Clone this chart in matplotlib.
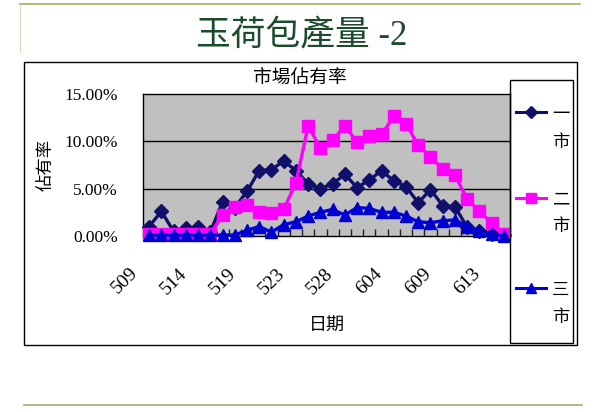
import matplotlib
matplotlib.use("Agg")
import matplotlib.pyplot as plt
from matplotlib.lines import Line2D
from matplotlib.patches import Rectangle
from matplotlib.transforms import ScaledTranslation
import numpy as np

# ---------------- data ----------------
series_names = ["一市", "二市", "三市"]
market1 = [1.0, 2.6, 0.5, 0.8, 0.9, 0.4, 3.6, 3.0, 4.7, 6.9, 7.0, 7.9, 6.9, 5.5, 5.0,
           5.5, 6.5, 5.1, 5.9, 6.9, 5.8, 5.2, 3.5, 4.9, 3.2, 3.1, 0.9, 0.5, 0.2, 0.1]
market2 = [0.2, 0.2, 0.2, 0.2, 0.2, 0.2, 2.2, 3.1, 3.3, 2.5, 2.4, 2.8, 5.6, 11.6, 9.3,
           10.1, 11.6, 9.9, 10.5, 10.7, 12.6, 11.8, 9.6, 8.3, 7.1, 6.4, 3.9, 2.6, 1.4, 0.2]
market3 = [0.1, 0.1, 0.1, 0.1, 0.1, 0.1, 0.1, 0.1, 0.6, 1.0, 0.4, 1.2, 1.5, 2.1, 2.5,
           2.8, 2.2, 3.0, 2.9, 2.5, 2.5, 2.1, 1.5, 1.4, 1.6, 1.7, 1.0, 0.5, 0.2, 0.0]
tick_labels = ["509", "514", "519", "523", "528", "604", "609", "613"]
tick_step = 4
y_ticks = [0, 5, 10, 15]

W, H = 600, 412
def fx(px): return px / W
def fy(py): return 1 - py / H

CJK = ["Noto Sans CJK TC", "DejaVu Sans"]
SERIF = ["Liberation Serif", "Noto Sans CJK TC"]

fig = plt.figure(figsize=(6, 4.12), dpi=100)
fig.patch.set_facecolor("white")

olive = "#a8a86a"
fig.add_artist(Line2D([fx(20), fx(580)], [fy(4), fy(4)], transform=fig.transFigure, color=olive, lw=1.2))
fig.add_artist(Line2D([fx(20), fx(20)], [fy(4), fy(52)], transform=fig.transFigure, color="#d8d8b8", lw=0.8))
fig.add_artist(Line2D([fx(24), fx(582)], [fy(405), fy(405)], transform=fig.transFigure, color=olive, lw=1.2))

# main title
fig.text(fx(302), fy(36), "玉荷包產量 -2", family=SERIF, fontsize=25, color="#1c4a2c",
         ha="center", va="center")

# chart box
fig.add_artist(Rectangle((fx(24), fy(345)), fx(577) - fx(24), fy(62) - fy(345),
                         transform=fig.transFigure, fill=False, ec="black", lw=1))

fig.text(fx(300), fy(78), "市場佔有率", family=CJK, fontsize=13.5, ha="center", va="center",
         fontweight="light")

ax = fig.add_axes([fx(143), fy(236), fx(510) - fx(143), fy(93.7) - fy(236)])
ax.set_facecolor("#c0c0c0")
n = len(market1)
x = np.arange(n)
ax.set_xlim(-0.5, n - 0.5)
ax.set_ylim(0, 15)

for yv in y_ticks[1:-1]:
    ax.axhline(yv, color="black", lw=1, zorder=1)

ax.plot(x, market1, color="#10106a", lw=2.4, marker="D", ms=7.5, mfc="#10106a", mec="#10106a", zorder=3, clip_on=False)
ax.plot(x, market2, color="#ff00ff", lw=2.4, marker="s", ms=8, mfc="#ff00ff", mec="#ff00ff", zorder=3, clip_on=False)
ax.plot(x, market3, color="#0000e0", lw=2.4, marker="^", ms=8.5, mfc="#0000d0", mec="#0000d0", zorder=4, clip_on=False)

ax.set_yticks(y_ticks)
ax.set_yticklabels([f"{v:.2f}%" for v in y_ticks], family=SERIF, fontsize=12.5)
ax.tick_params(axis="y", length=0, pad=18)

ax.set_xticks(np.arange(0, n, tick_step))
ax.set_xticklabels(tick_labels, family=SERIF, fontsize=14, rotation=45,
                   rotation_mode="anchor", ha="right", va="center")
ax.set_xticks(np.arange(0.5, n - 0.5, 1), minor=True)
ax.tick_params(axis="x", which="major", length=0, pad=25)
ax.tick_params(axis="x", which="minor", direction="in", length=5, color="#202020", width=1)
off = ScaledTranslation(-14 / 100, 0, fig.dpi_scale_trans)
for lab in ax.get_xticklabels():
    lab.set_transform(lab.get_transform() + off)

for s in ax.spines.values():
    s.set_color("black")
    s.set_linewidth(1)

ax.set_xlabel("日期", family=CJK, fontsize=13, labelpad=14, fontweight="light")
ax.set_ylabel("佔有率", family=CJK, fontsize=12.5, labelpad=7, fontweight="light")

# legend box (manual)
fig.add_artist(Rectangle((fx(510), fy(343)), fx(573) - fx(510), fy(80) - fy(343),
                         transform=fig.transFigure, fill=False, ec="black", lw=1))
leg_specs = [("#10106a", "D", 6, 112, 142), ("#ff00ff", "s", 7, 198, 226), ("#0000e0", "^", 7, 288, 317)]
for name, (col, mk, ms, ly, ty2) in zip(series_names, leg_specs):
    fig.add_artist(Line2D([fx(516), fx(546)], [fy(ly), fy(ly)], transform=fig.transFigure,
                          color=col, lw=2.2))
    fig.add_artist(Line2D([fx(531)], [fy(ly)], transform=fig.transFigure, color=col,
                          marker=mk, ms=ms, mfc=col, mec=col, lw=0))
    fig.text(fx(561), fy(ly + 2), name[0], family=CJK, fontsize=12.5, ha="center", va="center",
             fontweight="light")
    fig.text(fx(561), fy(ty2), name[1], family=CJK, fontsize=12.5, ha="center", va="center",
             fontweight="light")

fig.savefig("out.png", dpi=100, facecolor="white")
